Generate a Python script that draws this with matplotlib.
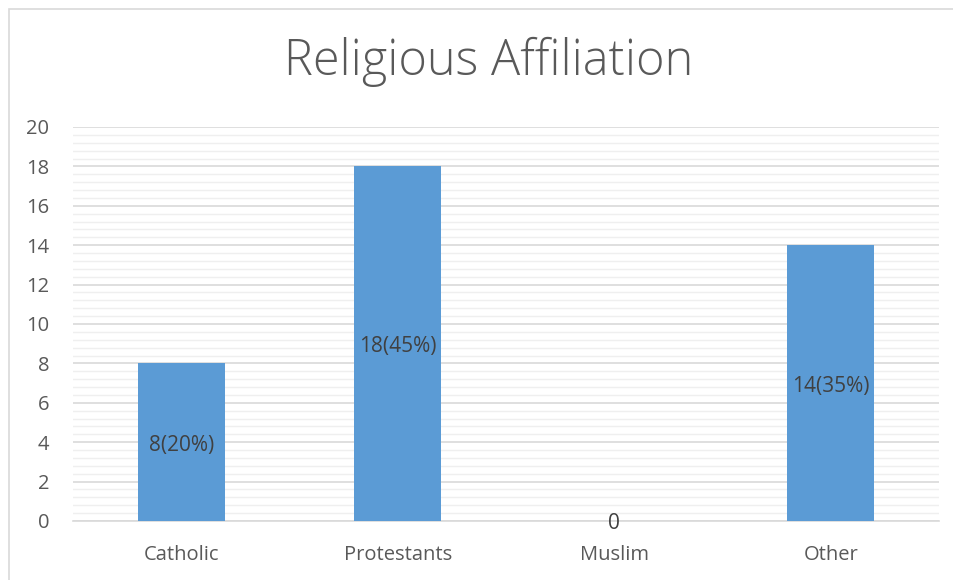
import numpy as np
import matplotlib.pyplot as plt
from matplotlib.patches import Rectangle
from matplotlib.ticker import MultipleLocator

# chart data
categories = ['Catholic', 'Protestants', 'Muslim', 'Other']
counts = [8, 18, 0, 14]
labels = ['8(20%)', '18(45%)', '0', '14(35%)']

plt.rcParams['font.family'] = ['Open Sans', 'DejaVu Sans']
text_col = '#595959'

fig = plt.figure(figsize=(9.54, 5.8), dpi=100)
ax = fig.add_axes([73 / 954, 1 - 521 / 580, (939 - 73) / 954, (521 - 127) / 580])

x = np.arange(len(categories))
bars = ax.bar(x, counts, width=0.4, color='#5B9BD5', zorder=3)

# labels centred in bars
for xi, v, lab in zip(x, counts, labels):
    ax.text(xi, v / 2 - 0.15, lab, ha='center', va='center', fontsize=15, color='#404040', zorder=4)

ax.set_xlim(-0.5, len(categories) - 0.5)
ax.set_ylim(0, 20)
ax.yaxis.set_major_locator(MultipleLocator(2))
ax.yaxis.set_minor_locator(MultipleLocator(0.4))
ax.grid(which='major', axis='y', color='#D9D9D9', linewidth=1.2, zorder=0)
ax.grid(which='minor', axis='y', color='#EFEFEF', linewidth=1.0, zorder=0)
ax.set_axisbelow(True)
for s in ['top', 'right', 'left']:
    ax.spines[s].set_visible(False)
ax.spines['bottom'].set_color('#D9D9D9')
ax.spines['bottom'].set_linewidth(1.2)

ax.set_xticks(x)
ax.set_xticklabels(categories)
ax.tick_params(axis='both', which='both', length=0, labelsize=14.5, colors=text_col)
ax.tick_params(axis='x', pad=17)
ax.tick_params(axis='y', pad=17)

fig.text(0.512, 1 - 62 / 580, 'Religious Affiliation', ha='center', va='center',
         fontsize=35, color=text_col, fontweight='light')

# chart border
fig.patches.append(Rectangle((9 / 954, -0.05), 1.1, 1 - 9 / 580 + 0.05, transform=fig.transFigure,
                             fill=False, edgecolor='#D9D9D9', linewidth=1.2))

fig.savefig('out.png', dpi=100)
